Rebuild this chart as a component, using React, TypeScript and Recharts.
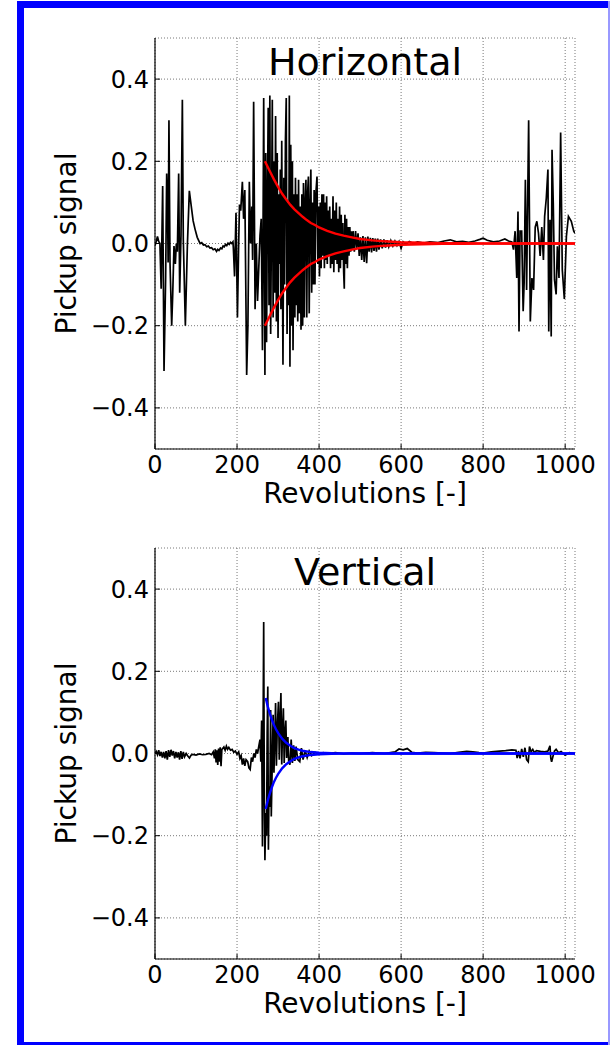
import React from 'react';
import { LineChart, Line, XAxis, YAxis, CartesianGrid, Label, ReferenceArea } from 'recharts';

// ---------- axis settings ----------
const xTicks = [0, 200, 400, 600, 800, 1000];
const yTicks = [-0.4, -0.2, 0, 0.2, 0.4];
const xDomain: [number, number] = [0, 1024];
const yDomain: [number, number] = [-0.5, 0.5];
const xLabel = 'Revolutions [-]';
const yLabel = 'Pickup signal';
const titles = ['Horizontal', 'Vertical'];

// ---------- Horizontal pickup signal [revolution, signal] ----------
const horizontalSignal: [number, number][] = [
  [0, -0.005], [3, 0.005], [6, 0.017], [9, 0.005], [12, 0.0], [15, -0.11], [18.7, 0.14], [22, -0.31],
  [26, -0.08], [28.5, 0.17], [30.5, 0.1], [32, -0.046], [34, 0.3], [36.6, -0.046], [40.7, -0.2],
  [43, -0.13], [46.3, -0.006], [49.6, -0.05], [52, 0.0], [54.5, -0.02], [57.7, 0.17], [60.2, -0.12],
  [63.4, 0.02], [66.7, 0.35], [69, 0.01], [74, -0.2], [78.9, -0.006], [83.7, 0.128], [86, 0.11],
  [89.4, 0.083], [93, 0.055], [97.6, 0.035], [103, 0.015], [110, 0.0], [114, 0.002], [118, -0.004],
  [122, -0.003], [126, -0.008], [130, -0.006], [134, -0.011], [138, -0.01], [142, -0.015], [146, -0.013],
  [150, -0.019], [153, -0.014], [156, -0.017], [160, -0.011], [163, -0.013], [166, -0.006], [169, -0.008],
  [172, -0.002], [175, -0.005], [178, 0.001], [181, -0.002], [184, 0.003], [187, 0.0], [190, 0.004],
  [191, -0.01], [194, -0.08], [197.5, 0.075], [201, -0.18], [204, 0.0], [206, 0.095], [209, 0.08],
  [213, 0.15], [216, 0.06], [219, 0.13], [223.5, -0.32], [226.5, -0.2], [230, 0.15], [233, 0.0],
  [236, 0.09], [238, -0.04], [240.5, 0.345], [244, -0.16], [247, 0.0], [250, -0.14], [253, -0.06],
  [256, 0.02], [259, 0.06], [262, -0.26], [265, 0.354], [268, -0.32],
  [270, 0.22], [272, -0.24], [274, 0.1], [276, 0.33], [278, -0.15], [280, 0.36], [282, -0.22],
  [284, 0.05], [286, 0.35], [288, -0.18], [290, 0.2], [292, -0.12], [294, 0.31], [296, -0.19],
  [298, 0.22], [300, -0.23], [302, 0.12], [304, -0.05], [305.5, 0.18], [307, -0.16], [309, 0.25],
  [312, -0.295], [314, 0.16], [316, -0.1], [318, 0.25], [320, 0.354], [322, -0.22], [324, 0.1],
  [326, -0.15], [327.5, 0.36], [329, -0.3], [331, 0.24], [333, -0.2], [335, 0.2], [336.5, -0.26],
  [339, 0.12], [341, -0.18], [342.5, 0.16], [344.5, -0.15], [346, 0.12], [348, -0.19], [350, 0.155],
  [352, -0.17], [354, 0.09], [356, -0.21], [358, 0.12], [360, -0.2], [362, 0.147], [364, -0.18],
  [366, 0.1], [368, 0.155], [370, -0.18], [372, 0.12], [374, 0.163], [376, -0.17], [378, 0.08],
  [380, 0.18], [382, -0.12], [384, 0.1], [386, -0.1], [388, 0.13], [390, -0.1], [392, 0.12],
  [395, 0.163], [397, -0.05], [399, 0.09], [401, -0.08], [403, 0.1], [405, -0.06], [407, 0.12],
  [409, -0.03], [411, 0.12], [413, -0.06], [415, 0.1], [417, -0.04], [418.5, 0.115], [420, -0.05],
  [422, 0.08], [424, -0.03], [426, 0.09], [428, -0.06], [430, 0.06], [432, -0.05], [434, 0.115],
  [436, -0.07], [438, 0.08], [440, -0.04], [442, 0.1], [444, -0.05], [446, 0.06], [448, -0.07],
  [450, 0.09], [452, -0.06], [454, 0.07], [456, -0.04], [458, 0.05], [460, -0.07], [461.5, -0.11],
  [463, 0.07], [465, -0.05], [467, 0.06], [469, -0.06], [471, 0.04], [473, -0.03], [475, 0.04],
  [477, -0.02], [479, 0.03], [481, -0.015], [483, 0.03], [486, -0.02], [489, 0.03], [492, -0.012],
  [495, 0.025], [498, -0.03], [501, 0.015], [504, -0.04], [507, 0.018], [510, -0.045], [513, 0.015],
  [516, -0.048], [519, 0.017], [522, -0.02], [525, 0.014], [528, -0.022], [531, 0.013], [534, -0.018],
  [537, 0.012], [540, -0.02], [543, 0.012], [546, -0.015], [550, 0.01], [554, -0.012], [558, 0.01],
  [562, -0.01], [566, 0.008], [570, -0.008], [575, 0.007], [580, -0.006], [585, 0.006], [590, -0.005],
  [595, 0.005], [600, -0.012], [605, 0.004], [612, -0.002], [620, 0.005], [630, 0.0], [640, 0.004],
  [655, 0.001], [670, 0.004], [690, 0.002], [705, 0.006], [720, 0.009], [735, 0.004], [750, 0.005],
  [765, 0.003], [780, 0.006], [792, 0.01], [800, 0.013], [810, 0.008], [825, 0.004], [840, 0.006],
  [853, 0.011], [862, 0.006], [870, 0.004], [874, -0.015], [878, 0.03], [882, -0.084], [885, 0.078],
  [887.5, -0.214], [890, 0.03], [894, 0.03], [897.6, -0.165], [900, -0.096], [903, 0.155], [906, -0.113],
  [911, 0.3], [915, -0.19], [919, -0.084], [923, -0.113], [927, 0.04], [931, 0.054], [935, 0.025],
  [939, -0.03], [943, 0.04], [947, -0.04], [950, 0.066], [954, 0.11], [958, 0.18], [960, -0.214],
  [963, 0.058], [966, -0.226], [968, 0.228], [971, 0.098], [974, -0.088], [978, -0.124], [981, -0.007],
  [985, -0.084], [989, 0.27], [993, -0.064], [998, -0.135], [1003, 0.017], [1008, 0.066], [1015, 0.054],
  [1021, 0.03], [1024, 0.025],
];

// fitted decay envelope (red)
const horizontalEnvelopeUpper: [number, number][] = [
  [268, 0.2], [280, 0.176], [290, 0.156], [300, 0.138], [310, 0.121], [320, 0.107], [330, 0.094],
  [340, 0.083], [350, 0.074], [360, 0.065], [370, 0.057], [380, 0.05], [390, 0.045], [400, 0.039],
  [420, 0.031], [440, 0.024], [460, 0.019], [480, 0.015], [500, 0.011], [530, 0.0077], [560, 0.0053],
  [600, 0.0032], [650, 0.0017], [700, 0.0009], [750, 0.0005], [800, 0.0003], [900, 0.0001], [1024, 0.0],
];
const horizontalEnvelopeLower: [number, number][] = [
  [268, -0.2], [280, -0.176], [290, -0.156], [300, -0.138], [310, -0.121], [320, -0.107], [330, -0.094],
  [340, -0.083], [350, -0.074], [360, -0.065], [370, -0.057], [380, -0.05], [390, -0.045], [400, -0.039],
  [420, -0.031], [440, -0.024], [460, -0.019], [480, -0.015], [500, -0.011], [530, -0.0077], [560, -0.0053],
  [600, -0.0032], [650, -0.0017], [700, -0.0009], [750, -0.0005], [800, -0.0003], [900, -0.0001], [1024, 0.0],
];

// ---------- Vertical pickup signal [revolution, signal] ----------
const verticalSignal: [number, number][] = [
  [0, 0.0], [3, 0.005], [6, -0.003], [9, 0.008], [12, -0.006], [15, 0.004], [18, -0.01], [21, 0.004],
  [24, -0.012], [27, 0.006], [30, -0.015], [33, 0.008], [36, -0.008], [39, 0.009], [42, -0.005],
  [45, 0.006], [48, -0.012], [51, 0.004], [54, -0.01], [57, 0.003], [60, -0.015], [63, 0.006],
  [66, -0.013], [69, 0.004], [72, -0.008], [76, 0.0], [80, -0.006], [84, -0.011], [88, -0.004],
  [92, -0.002], [100, -0.004], [108, -0.001], [116, -0.003], [124, -0.002], [132, 0.0], [138, -0.003],
  [142, 0.004], [145, -0.012], [147, 0.01], [149, -0.022], [151, 0.008], [153, -0.028], [155, 0.012],
  [157, -0.02], [159, 0.015], [161, -0.031], [163, 0.01], [165, 0.012], [168, 0.016], [171, 0.008],
  [174, 0.018], [177, 0.01], [180, 0.015], [184, 0.008], [188, 0.01], [192, 0.003], [196, 0.006],
  [200, -0.002], [204, 0.004], [207, -0.012], [210, -0.005], [213, -0.027], [216, -0.012], [219, -0.03],
  [222, -0.015], [226, -0.02], [229, -0.035], [232, -0.039], [235, -0.01], [238, -0.02], [241, 0.0],
  [244, -0.01], [247, 0.01], [250, 0.0], [253, 0.017], [256, 0.034], [258, -0.02], [260, 0.08],
  [262, -0.226], [263.5, 0.05], [265, 0.32], [266.5, -0.1], [268, -0.26], [270, -0.145], [272, -0.2],
  [273.5, 0.05], [275, 0.163], [276.5, -0.234], [278, -0.08], [280, -0.13], [282, 0.106], [283.5, -0.153],
  [285, -0.072], [288, 0.094], [290, -0.047], [292, 0.03], [294, 0.123], [296, -0.03], [298, 0.06],
  [301, 0.126], [303, -0.015], [305, 0.08], [307, 0.147], [309, -0.027], [311, 0.06], [313, 0.11],
  [315, -0.023], [317, 0.05], [319, 0.08], [321, -0.011], [324, 0.04], [326, -0.02], [329, -0.027],
  [332, 0.034], [335, -0.023], [338, 0.02], [341, -0.018], [344, 0.017], [348, -0.015], [353, -0.02],
  [357, 0.013], [361, -0.015], [366, 0.008], [371, -0.01], [376, 0.006], [382, -0.005], [390, 0.003],
  [400, -0.002], [410, 0.002], [420, 0.0], [440, 0.002], [460, -0.001], [480, 0.001], [500, 0.0],
  [530, 0.002], [560, 0.0], [585, 0.004], [595, 0.011], [605, 0.009], [615, 0.012], [626, 0.003],
  [640, 0.001], [660, 0.003], [680, 0.002], [700, 0.001], [720, 0.0], [740, 0.003], [760, 0.005],
  [775, 0.004], [790, 0.002], [800, 0.001], [820, 0.004], [840, 0.006], [855, 0.007], [870, 0.009],
  [880, 0.008], [883, -0.011], [886, 0.006], [890, -0.012], [894, 0.011], [898, -0.008], [902, 0.014],
  [906, -0.015], [910, -0.02], [913, 0.017], [917, 0.004], [921, 0.01], [925, 0.002], [930, 0.007],
  [940, 0.005], [950, 0.004], [958, 0.006], [963, 0.019], [965, -0.012], [967, -0.02], [970, -0.008],
  [974, 0.006], [978, 0.01], [984, 0.002], [990, 0.005], [1000, -0.004], [1010, 0.002], [1024, 0.0],
];

// fitted decay envelope (blue)
const verticalEnvelopeUpper: [number, number][] = [
  [270, 0.135], [275, 0.114], [280, 0.097], [285, 0.082], [290, 0.069], [295, 0.059], [300, 0.05],
  [310, 0.036], [320, 0.026], [330, 0.019], [340, 0.013], [350, 0.0095], [360, 0.0067], [380, 0.0035],
  [400, 0.0018], [430, 0.0007], [460, 0.0003], [500, 0.0001], [600, 0.0], [1024, 0.0],
];
const verticalEnvelopeLower: [number, number][] = [
  [270, -0.135], [275, -0.114], [280, -0.097], [285, -0.082], [290, -0.069], [295, -0.059], [300, -0.05],
  [310, -0.036], [320, -0.026], [330, -0.019], [340, -0.013], [350, -0.0095], [360, -0.0067], [380, -0.0035],
  [400, -0.0018], [430, -0.0007], [460, -0.0003], [500, -0.0001], [600, 0.0], [1024, 0.0],
];

const toPoints = (arr: [number, number][]) => arr.map(([x, y]) => ({ x, y }));

const fmtY = (v: number) => {
  if (Math.abs(v) < 1e-9) return '0.0';
  const s = Math.abs(v).toFixed(1);
  return v < 0 ? '\u2212' + s : s;
};

const FONT = "'DejaVu Sans', 'Bitstream Vera Sans', sans-serif";

function Panel(props: {
  title: string;
  signal: [number, number][];
  upper: [number, number][];
  lower: [number, number][];
  fitColor: string;
}) {
  const { title, signal, upper, lower, fitColor } = props;
  const axisLine = { stroke: '#000', strokeWidth: 1.2 };
  const tickLine = { stroke: '#000', strokeWidth: 1 };
  return (
    <LineChart width={610} height={520} margin={{ top: 38, right: 35, bottom: 0, left: 0 }}>
      <CartesianGrid stroke="#555" strokeWidth={0.8} strokeDasharray="1 2" xAxisId={0} yAxisId={0} />
      <XAxis
        xAxisId={0}
        type="number"
        dataKey="x"
        domain={xDomain}
        ticks={xTicks}
        interval={0}
        allowDataOverflow
        height={71}
        tickSize={-5}
        tickMargin={12}
        axisLine={axisLine}
        tickLine={tickLine}
        tick={{ fill: '#000', fontSize: 24, fontFamily: FONT }}
      >
        <Label value={xLabel} position="insideBottom" offset={17} style={{ fontSize: 28, fill: '#000', fontFamily: FONT }} />
      </XAxis>
      <XAxis
        xAxisId="top"
        orientation="top"
        type="number"
        dataKey="x"
        domain={xDomain}
        ticks={xTicks}
        interval={0}
        allowDataOverflow
        height={0}
        tickSize={-5}
        tick={false}
        axisLine={axisLine}
        tickLine={tickLine}
      />
      <YAxis
        yAxisId={0}
        type="number"
        domain={yDomain}
        ticks={yTicks}
        interval={0}
        allowDataOverflow
        width={155}
        tickSize={-5}
        tickMargin={11}
        tickFormatter={fmtY}
        axisLine={axisLine}
        tickLine={tickLine}
        tick={{ fill: '#000', fontSize: 24, fontFamily: FONT }}
      >
        <Label
          value={yLabel}
          angle={-90}
          position="insideLeft"
          offset={66}
          style={{ fontSize: 28, fill: '#000', textAnchor: 'middle', fontFamily: FONT }}
        />
      </YAxis>
      <YAxis
        yAxisId="right"
        orientation="right"
        type="number"
        domain={yDomain}
        ticks={yTicks}
        interval={0}
        allowDataOverflow
        width={0}
        tickSize={-5}
        tick={false}
        axisLine={axisLine}
        tickLine={tickLine}
      />
      <ReferenceArea
        xAxisId={0}
        yAxisId={0}
        x1={xDomain[0]}
        x2={xDomain[1]}
        y1={yDomain[0]}
        y2={yDomain[1]}
        fill="#fff"
        fillOpacity={0}
        stroke="none"
      >
        <Label value={title} position="insideTop" offset={10} style={{ fontSize: 38, fill: '#000', fontFamily: FONT }} />
      </ReferenceArea>
      <Line
        data={toPoints(signal)}
        dataKey="y"
        xAxisId={0}
        yAxisId={0}
        type="linear"
        stroke="#000"
        strokeWidth={1.7}
        dot={false}
        activeDot={false}
        isAnimationActive={false}
      />
      <Line
        data={toPoints(upper)}
        dataKey="y"
        xAxisId={0}
        yAxisId={0}
        type="linear"
        stroke={fitColor}
        strokeWidth={2.4}
        dot={false}
        activeDot={false}
        isAnimationActive={false}
      />
      <Line
        data={toPoints(lower)}
        dataKey="y"
        xAxisId={0}
        yAxisId={0}
        type="linear"
        stroke={fitColor}
        strokeWidth={2.4}
        dot={false}
        activeDot={false}
        isAnimationActive={false}
      />
    </LineChart>
  );
}

export default function App() {
  const blue = '#0000ff';
  return (
    <div
      style={{
        position: 'absolute',
        left: 0,
        top: 0,
        width: 610,
        height: 1045,
        background: '#fff',
        overflow: 'hidden',
        fontFamily: FONT,
      }}
    >
      <div style={{ position: 'absolute', left: 0, top: 0 }}>
        <Panel
          title={titles[0]}
          signal={horizontalSignal}
          upper={horizontalEnvelopeUpper}
          lower={horizontalEnvelopeLower}
          fitColor="#ff0000"
        />
      </div>
      <div style={{ position: 'absolute', left: 0, top: 510 }}>
        <Panel
          title={titles[1]}
          signal={verticalSignal}
          upper={verticalEnvelopeUpper}
          lower={verticalEnvelopeLower}
          fitColor="#0000ff"
        />
      </div>
      {/* blue frame */}
      <div style={{ position: 'absolute', left: 17, top: 1, width: 593, height: 7, background: blue }} />
      <div style={{ position: 'absolute', left: 17, top: 1, width: 7, height: 1044, background: blue }} />
      <div style={{ position: 'absolute', left: 17, top: 1042, width: 593, height: 3, background: blue }} />
      <div style={{ position: 'absolute', left: 608, top: 1, width: 2, height: 1044, background: '#9999ff' }} />
    </div>
  );
}
